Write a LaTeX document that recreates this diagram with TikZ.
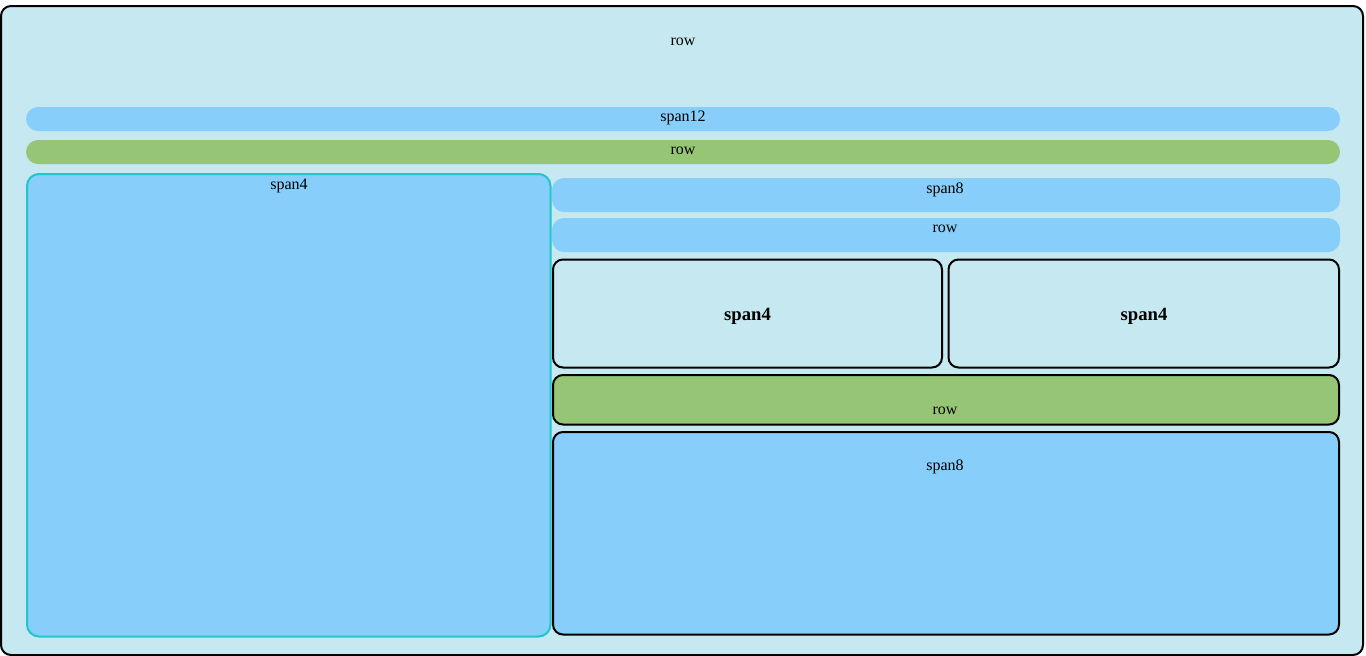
\documentclass[tikz,border=0pt]{standalone}
\usepackage{fontspec}
\setmainfont{Liberation Serif}
\definecolor{bgblue}{RGB}{198,232,241}
\definecolor{skyb}{RGB}{135,206,250}
\definecolor{grn}{RGB}{150,198,117}
\definecolor{teal2}{RGB}{32,198,200}
\tikzset{
  box/.style={draw=black, line width=2pt, rounded corners=10pt},
  bar/.style={rounded corners=12pt},
  lbl/.style={font=\fontsize{16pt}{18pt}\selectfont, inner sep=0pt, anchor=base},
  blbl/.style={font=\fontsize{18.7pt}{21pt}\selectfont\bfseries, inner sep=0pt, anchor=base},
}
\begin{document}
\begin{tikzpicture}[x=1pt,y=-1pt]
\useasboundingbox (0,0) rectangle (1366,656);
% outer row
\draw[box, fill=bgblue] (1,6) rectangle (1363,655);
\node[lbl] (toprow) at (683,45) {row};
% span12 bar
\fill[skyb, bar] (26,107) rectangle (1340,131);
\node[lbl] (span12) at (683,121.5) {span12};
% green row bar
\fill[grn, bar] (26,140) rectangle (1340,164);
\node[lbl] (row2) at (683,154) {row};
% left span4
\draw[teal2, line width=2pt, fill=skyb, rounded corners=12pt] (27,174) rectangle (550.5,636.5);
\node[lbl] (lspan4) at (289,189.5) {span4};
% span8 bar
\fill[skyb, rounded corners=12pt] (552,178) rectangle (1340,212);
\node[lbl] (span8a) at (945,193) {span8};
% row bar
\fill[skyb, rounded corners=12pt] (552,218) rectangle (1340,252);
\node[lbl] (row3) at (945,232) {row};
% two span4 boxes
\draw[box, fill=bgblue] (553,259.5) rectangle (942,367.5);
\node[blbl] (s4a) at (747.5,320) {span4};
\draw[box, fill=bgblue] (948.5,259.5) rectangle (1339,367.5);
\node[blbl] (s4b) at (1144,320) {span4};
% green row box
\draw[box, fill=grn] (553,375) rectangle (1339,424.5);
\node[lbl] (row4) at (945,414) {row};
% bottom span8
\draw[box, fill=skyb] (553,432) rectangle (1339,634.5);
\node[lbl] (span8b) at (945,470) {span8};
\end{tikzpicture}
\end{document}
